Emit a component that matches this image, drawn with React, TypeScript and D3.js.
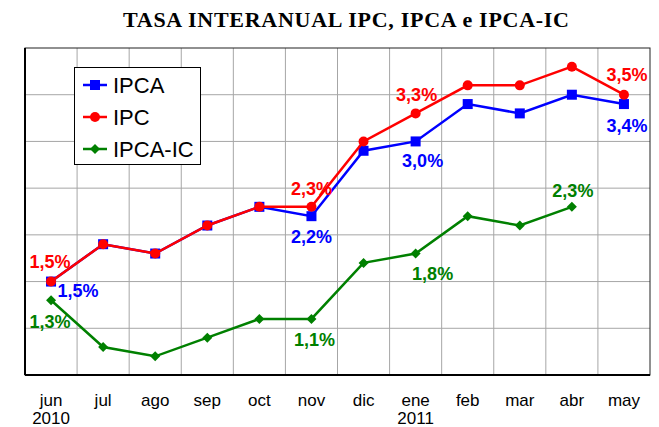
import React from 'react';
import * as d3 from 'd3';

const months = ['jun', 'jul', 'ago', 'sep', 'oct', 'nov', 'dic', 'ene', 'feb', 'mar', 'abr', 'may'];
const years: Record<string, string> = { jun: '2010', ene: '2011' };

const ipca = [1.5, 1.9, 1.8, 2.1, 2.3, 2.2, 2.9, 3.0, 3.4, 3.3, 3.5, 3.4];
const ipc = [1.5, 1.9, 1.8, 2.1, 2.3, 2.3, 3.0, 3.3, 3.6, 3.6, 3.8, 3.5];
const ipcaIc = [1.3, 0.8, 0.7, 0.9, 1.1, 1.1, 1.7, 1.8, 2.2, 2.1, 2.3];

const yTicks = [1.0, 1.5, 2.0, 2.5, 3.0, 3.5];

// labelled points: series, month index, offset from the point
const annotations = [
  { s: 'IPC', i: 0, dx: -1, dy: -14 },
  { s: 'IPCA', i: 0, dx: 27, dy: 15 },
  { s: 'IPCA-IC', i: 0, dx: -1, dy: 28 },
  { s: 'IPC', i: 5, dx: 0, dy: -12 },
  { s: 'IPCA', i: 5, dx: 0, dy: 27 },
  { s: 'IPCA-IC', i: 5, dx: 3, dy: 27 },
  { s: 'IPC', i: 7, dx: 1, dy: -12 },
  { s: 'IPCA', i: 7, dx: 7, dy: 26 },
  { s: 'IPCA-IC', i: 7, dx: 17, dy: 26 },
  { s: 'IPC', i: 11, dx: 3, dy: -14 },
  { s: 'IPCA', i: 11, dx: 3, dy: 28 },
  { s: 'IPCA-IC', i: 10, dx: 1, dy: -10 },
];

const W = 659;
const H = 427;
const plot = { left: 25, right: 650, top: 48, bottom: 375 };

const series = [
  { name: 'IPCA', values: ipca, color: '#0000ff', marker: 'square' },
  { name: 'IPC', values: ipc, color: '#ff0000', marker: 'circle' },
  { name: 'IPCA-IC', values: ipcaIc, color: '#008000', marker: 'diamond' },
];

const sans = '"Liberation Sans", Arial, sans-serif';

const Marker = ({ type, x, y, color }: { type: string; x: number; y: number; color: string }) => {
  if (type === 'square') return <rect x={x - 5} y={y - 5} width={10} height={10} fill={color} />;
  if (type === 'circle') return <circle cx={x} cy={y} r={5} fill={color} />;
  return <path d={`M${x},${y - 5}L${x + 5},${y}L${x},${y + 5}L${x - 5},${y}Z`} fill={color} />;
};

const App = () => {
  const x = d3.scaleBand<string>().domain(months).range([plot.left, plot.right]).padding(0);
  const y = d3.scaleLinear().domain([0.5, 4.0]).range([plot.bottom, plot.top]);
  const cx = (i: number) => (x(months[i]) || 0) + x.bandwidth() / 2;

  const line = d3.line<number>().x((_, i) => cx(i)).y(d => y(d));

  // draw order: green, blue, red on top
  const drawOrder = [series[2], series[0], series[1]];

  return (
    <svg width={W} height={H} style={{ position: 'absolute', left: 0, top: 0, background: '#fff' }}>
      <text x={346} y={27} textAnchor="middle" fontFamily='"Liberation Serif", "Times New Roman", serif'
        fontWeight="bold" fontSize={22} fill="#000" textLength={446} lengthAdjust="spacing">
        TASA INTERANUAL IPC, IPCA e IPCA-IC
      </text>

      {/* grid */}
      {months.slice(1).map(m => (
        <line key={m} x1={x(m)} x2={x(m)} y1={plot.top} y2={plot.bottom} stroke="#a6a6a6" strokeWidth={1} />
      ))}
      {yTicks.map(t => (
        <line key={t} x1={plot.left} x2={plot.right} y1={y(t)} y2={y(t)} stroke="#a6a6a6" strokeWidth={1} />
      ))}
      <rect x={plot.left} y={plot.top} width={plot.right - plot.left} height={plot.bottom - plot.top}
        fill="none" stroke="#222" strokeWidth={1} />
      <line x1={plot.left} x2={plot.left} y1={plot.top} y2={plot.bottom} stroke="#000" strokeWidth={2} />
      <line x1={plot.left} x2={plot.right} y1={plot.bottom} y2={plot.bottom} stroke="#000" strokeWidth={2} />

      {/* x labels */}
      {months.map((m, i) => (
        <text key={m} x={cx(i)} y={406} textAnchor="middle" fontFamily={sans} fontSize={17} fill="#000">
          <tspan x={cx(i)}>{m}</tspan>
          {years[m] && <tspan x={cx(i)} dy={18}>{years[m]}</tspan>}
        </text>
      ))}

      {/* series */}
      {drawOrder.map(s => (
        <g key={s.name}>
          <path d={line(s.values) || ''} fill="none" stroke={s.color} strokeWidth={2.5} />
          {s.values.map((v, i) => (
            <Marker key={i} type={s.marker} x={cx(i)} y={y(v)} color={s.color} />
          ))}
        </g>
      ))}

      {/* value labels */}
      {annotations.map((a, k) => {
        const s = series.find(d => d.name === a.s)!;
        const v = s.values[a.i];
        return (
          <text key={k} x={cx(a.i) + a.dx} y={y(v) + a.dy} textAnchor="middle" fontFamily={sans}
            fontWeight="bold" fontSize={18} fill={s.color}>
            {v.toFixed(1).replace('.', ',')}%
          </text>
        );
      })}

      {/* legend */}
      <rect x={74.5} y={67.5} width={126} height={97} fill="#fff" stroke="#000" strokeWidth={1} />
      {series.map((s, k) => {
        const ly = 85 + k * 32;
        return (
          <g key={s.name}>
            <line x1={83} x2={107} y1={ly} y2={ly} stroke={s.color} strokeWidth={2.5} />
            <Marker type={s.marker} x={95} y={ly} color={s.color} />
            <text x={113} y={ly + 8} fontFamily={sans} fontSize={22} fill="#000">{s.name}</text>
          </g>
        );
      })}
    </svg>
  );
};

export default App;
